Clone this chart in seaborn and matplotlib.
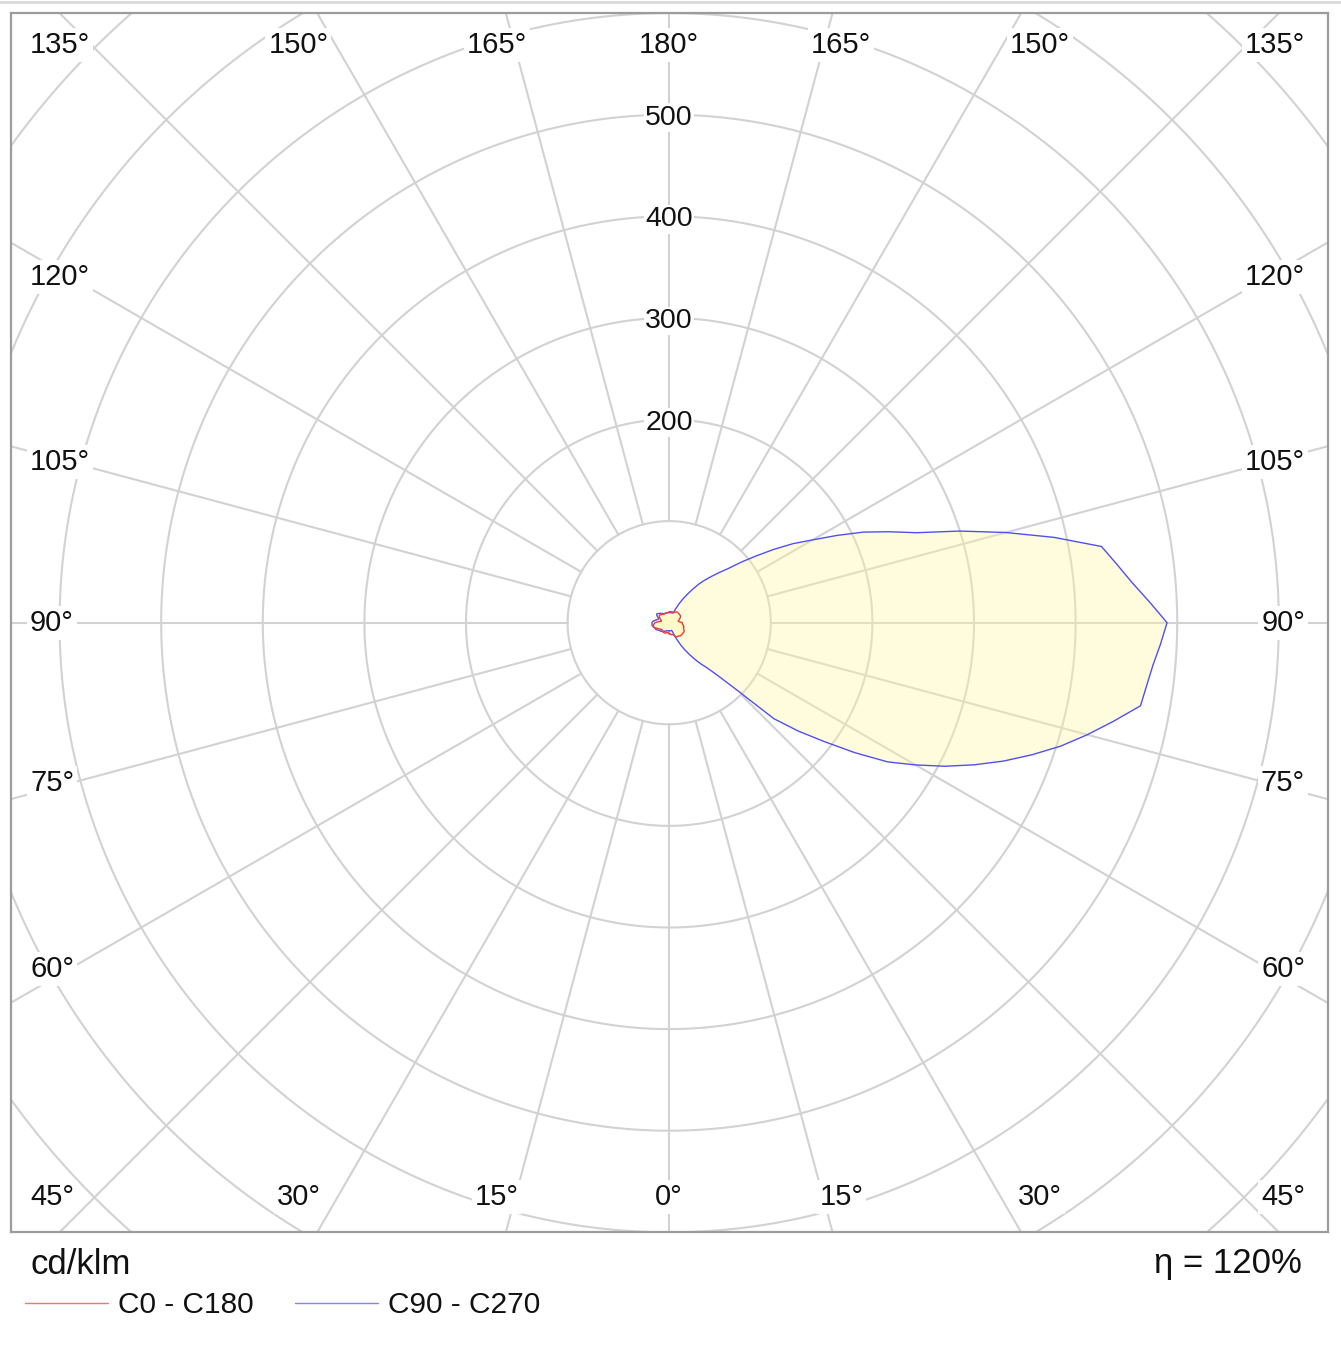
import numpy as np
import matplotlib
matplotlib.use("Agg")
import matplotlib.pyplot as plt
from matplotlib.lines import Line2D
import seaborn as sns

# luminous intensity, cd/klm
# small planes read in 5 degree steps, the main C90 plane in 2.5 degree steps
GAMMA = list(range(0, 185, 5))
GAMMA_FINE = [i * 2.5 for i in range(73)]

C0 = [11, 11, 12, 12, 13, 15, 16, 16, 17, 17, 17, 17, 17, 16, 15, 15, 14, 13, 13,
      10, 9, 10, 11, 12, 13, 13, 13, 13, 13, 13, 12, 11, 11, 11, 11, 11, 11]
C180 = [10, 10, 10, 10, 11, 11, 11, 11, 11, 10, 10, 11, 12, 13, 15, 16, 16, 15, 14,
        11, 8, 8, 9, 10, 11, 12, 12, 11, 11, 10, 10, 10, 10, 10, 10, 10, 10]
C90 = [8, 8, 8, 8, 8, 8, 8, 8, 9, 14, 19, 25, 31, 37, 44, 51, 58, 70, 92, 140,
       166, 192, 223, 255, 280, 306, 331, 356, 380, 404, 426, 448, 471, 474, 478, 484,
       490, 473, 457, 444, 432, 388, 343, 300, 259, 234, 211, 186, 163, 145, 126, 108,
       93, 79, 70, 62, 55, 48, 40, 33, 27, 21, 15, 11, 10, 10, 10, 10, 10, 10, 10, 10, 10]
C270 = [8, 8, 8, 8, 9, 9, 10, 10, 11, 12, 12, 13, 14, 15, 15, 16, 17, 17, 17,
        16, 14, 12, 11, 12, 14, 15, 14, 13, 12, 11, 10, 10, 10, 10, 10, 10, 10]

RINGS = [100, 200, 300, 400, 500, 600, 700, 800, 900]
RING_LABELS = [200, 300, 400, 500]
SPOKES = list(range(0, 360, 15))
ANGLE_TICKS = list(range(0, 195, 15))
UNIT = "cd/klm"
ETA = "\u03b7 = 120%"
LEGEND = ["C0 - C180", "C90 - C270"]
COLORS = ["#F03838", "#5050F0"]

sns.set_style("white")
plt.rcParams["font.family"] = ["Liberation Sans", "DejaVu Sans"]

W, H = 1341, 1353
fig = plt.figure(figsize=(W / 100, H / 100), dpi=100)
ax = fig.add_axes([11 / W, 1 - 1232 / H, 1317 / W, 1219 / H])
ax.set_xlim(-647.8, 648.4)
ax.set_ylim(-599.7, 600.1)
ax.set_xticks([])
ax.set_yticks([])
for s in ax.spines.values():
    s.set_color("#9C9C9C")
    s.set_linewidth(1.6)

grid_col = "#D2D2D2"
t = np.linspace(0, 2 * np.pi, 721)
for r in RINGS:
    ax.plot(r * np.cos(t), r * np.sin(t), color=grid_col, lw=1.5, zorder=1)
for a in SPOKES:
    th = np.radians(a)
    ax.plot([100 * np.sin(th), 1000 * np.sin(th)], [-100 * np.cos(th), -1000 * np.cos(th)],
            color=grid_col, lw=1.5, zorder=1)


def outline(g_right, right, g_left, left):
    g1 = np.radians(g_right)
    g2 = np.radians(g_left)[::-1]
    r1 = np.array(right, float)
    r2 = np.array(left, float)[::-1]
    xs = np.concatenate([r1 * np.sin(g1), -r2 * np.sin(g2)])
    ys = np.concatenate([-r1 * np.cos(g1), -r2 * np.cos(g2)])
    return np.append(xs, xs[0]), np.append(ys, ys[0])


curves = [outline(GAMMA, C0, GAMMA, C180), outline(GAMMA_FINE, C90, GAMMA, C270)]
for xs, ys in curves[::-1]:
    ax.fill(xs, ys, color="#FFF8A0", alpha=0.35, lw=0, zorder=2)
for (xs, ys), col in zip(curves[::-1], COLORS[::-1]):
    sns.lineplot(x=xs, y=ys, sort=False, estimator=None, color=col, lw=1.0, ax=ax, zorder=3)

box = dict(facecolor="white", edgecolor="none", pad=2)
tk = dict(fontsize=21, color="#111111", bbox=box, zorder=6, clip_on=False)

K_TOP, K_SIDE = 632, 590
Y_TOP, Y_BOT = 568.8, -565.3
X_LEFT, X_RIGHT = -629, 625.8
for a in ANGLE_TICKS:
    lab = f"{a}\u00b0"
    if 45 <= a <= 135:
        y = K_SIDE * np.tan(np.radians(a - 90))
        y = min(max(y, Y_BOT), Y_TOP)
        ax.text(X_LEFT, y, lab, ha="left", va="center", **tk)
        ax.text(X_RIGHT, y, lab, ha="right", va="center", **tk)
    else:
        y = Y_BOT if a < 90 else Y_TOP
        dx = K_TOP * np.tan(np.radians(a if a < 90 else 180 - a))
        if dx < 1:
            ax.text(0, y, lab, ha="center", va="center", **tk)
        else:
            ax.text(-dx, y, lab, ha="center", va="center", **tk)
            ax.text(dx, y, lab, ha="center", va="center", **tk)

for r in RING_LABELS:
    ax.text(0, r - 3, str(r), ha="center", va="center", fontsize=20.5, color="#111111",
            bbox=dict(facecolor="white", edgecolor="none", pad=1), zorder=6)

fig.add_artist(Line2D([0, 1], [1 - 2 / H, 1 - 2 / H], color="#DADADA", lw=2))
fig.text(30 / W, 1 - 1265 / H, UNIT, ha="left", va="center", fontsize=25, color="#111111")
fig.text(1302 / W, 1 - 1264 / H, ETA, ha="right", va="center", fontsize=25, color="#111111")
for (x0, x1, xt), lab, col in zip([(25, 108, 118), (295, 378, 388)], LEGEND, COLORS):
    fig.add_artist(Line2D([x0 / W, x1 / W], [1 - 1303 / H] * 2, color=col, lw=1.0, alpha=0.7))
    fig.text(xt / W, 1 - 1305 / H, lab, ha="left", va="center", fontsize=21.5, color="#111111")

fig.savefig("out.png", dpi=100)
